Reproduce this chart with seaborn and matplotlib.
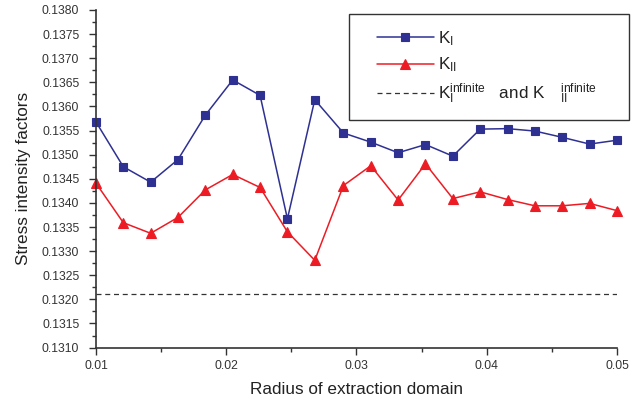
import matplotlib
matplotlib.use("Agg")
import matplotlib.pyplot as plt
from matplotlib.ticker import MultipleLocator, FormatStrFormatter
from matplotlib.patches import Rectangle
import seaborn as sns
import pandas as pd

radius = [0.0100, 0.0121, 0.0142, 0.0163, 0.0184, 0.0205, 0.0226, 0.0247, 0.0268, 0.0290,
          0.0311, 0.0332, 0.0353, 0.0374, 0.0395, 0.0416, 0.0437, 0.0458, 0.0479, 0.0500]
k1 = [0.13568, 0.13475, 0.13443, 0.13490, 0.13582, 0.13655, 0.13623, 0.13367, 0.13614, 0.13545,
      0.13526, 0.13504, 0.13521, 0.13497, 0.13553, 0.13554, 0.13549, 0.13536, 0.13522, 0.13530]
k2 = [0.13441, 0.13359, 0.13337, 0.13370, 0.13427, 0.13459, 0.13432, 0.13340, 0.13281, 0.13436,
      0.13477, 0.13406, 0.13481, 0.13409, 0.13423, 0.13407, 0.13394, 0.13394, 0.13399, 0.13384]
k_infinite = 0.13211

sns.set_style("ticks")
plt.rcParams['font.family'] = ['Liberation Sans', 'DejaVu Sans']
plt.rcParams['mathtext.fontset'] = 'custom'
plt.rcParams['mathtext.rm'] = 'Liberation Sans'
plt.rcParams['mathtext.it'] = 'Liberation Sans'

fig = plt.figure(figsize=(6.44, 4.0), dpi=100)
ax = fig.add_axes([0.149, 0.131, 0.809, 0.844])

df = pd.DataFrame({"r": radius, "k1": k1, "k2": k2})
blue = "#2e3192"
red = "#ed1c24"
sns.lineplot(data=df, x="r", y="k1", ax=ax, color=blue, marker="s", markersize=5.6,
             markeredgecolor=blue, markeredgewidth=0.8, linewidth=1.1, label="k1", clip_on=False)
sns.lineplot(data=df, x="r", y="k2", ax=ax, color=red, marker="^", markersize=7,
             markeredgecolor=red, markeredgewidth=0.8, linewidth=1.1, label="k2", clip_on=False)
ax.axhline(k_infinite, color="#333333", linestyle=(0, (4, 3)), linewidth=0.9)

ax.set_xlim(0.01, 0.05)
ax.set_ylim(0.1310, 0.1380)
ax.xaxis.set_major_locator(MultipleLocator(0.01))
ax.xaxis.set_minor_locator(MultipleLocator(0.005))
ax.yaxis.set_major_locator(MultipleLocator(0.0005))
ax.yaxis.set_minor_locator(MultipleLocator(0.00025))
ax.xaxis.set_major_formatter(FormatStrFormatter("%.2f"))
ax.yaxis.set_major_formatter(FormatStrFormatter("%.4f"))
ax.tick_params(which="major", length=5, width=1, colors="#333333", labelsize=8.7,
               labelcolor="#333333")
ax.tick_params(axis="y", which="major", pad=7)
ax.tick_params(axis="x", which="major", pad=4)
ax.tick_params(which="minor", length=3, width=1, colors="#333333")
for s in ("top", "right"):
    ax.spines[s].set_visible(False)
for s in ("left", "bottom"):
    ax.spines[s].set_color("#333333")
    ax.spines[s].set_linewidth(1.2)

ax.set_xlabel("Radius of extraction domain", fontsize=12.3, color="#222222", labelpad=7)
ax.set_ylabel("Stress intensity factors", fontsize=12.3, color="#222222", labelpad=8)

# legend frame (drawn separately to match the reference box proportions)
ax.add_patch(Rectangle((0.4856, 0.674), 0.537, 0.314, transform=ax.transAxes,
                       facecolor="white", edgecolor="#333333", linewidth=1.0,
                       clip_on=False, zorder=4))

handles, _ = ax.get_legend_handles_labels()
dash_handle = ax.lines[-1]
leg = ax.legend([handles[0], handles[1], dash_handle],
                [r"K$_{\rm I}$", r"K$_{\rm II}$",
                 r"K$_{\rm I}^{\rm infinite}$   and K$\quad\,{}_{\rm II}^{\rm infinite}$"],
                loc="upper left", bbox_to_anchor=(0.539, 0.943), frameon=False,
                fontsize=12.3, handlelength=3.35, borderpad=0, labelspacing=0.45,
                handletextpad=0.25, borderaxespad=0)
leg.set_zorder(5)
for t in leg.get_texts():
    t.set_color("#222222")

fig.savefig("out.png", dpi=100)
